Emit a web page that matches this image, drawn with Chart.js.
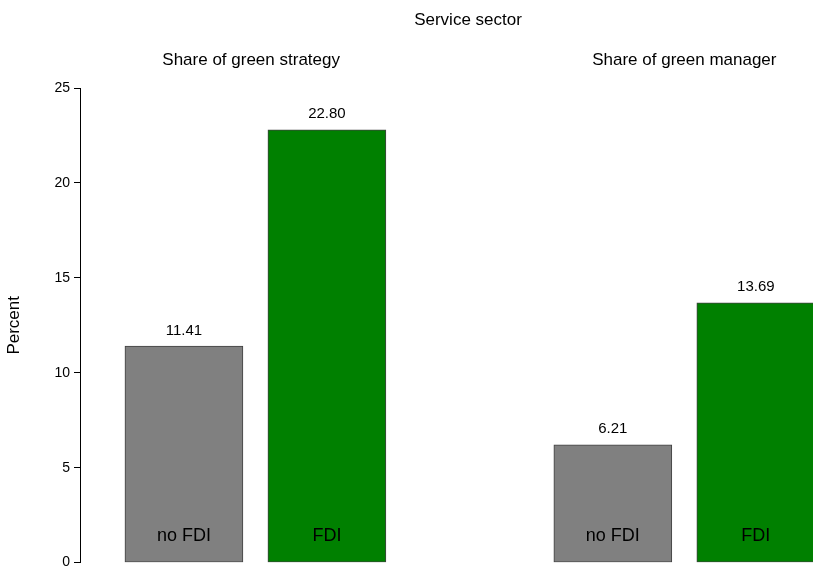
<!DOCTYPE html><html><head><script src="https://cdn.jsdelivr.net/npm/chart.js@4"></script>
<style>body{margin:0;background:#fff;overflow:hidden}#w{width:813px;height:575px}</style></head><body><div id="w"><canvas id="c"></canvas></div>
<script>
const categories=["no FDI","FDI","no FDI","FDI"];
const positions=[0,1,3,4];
const values=[11.41,22.80,6.21,13.69];
const groupTitles=["Share of green strategy","Share of green manager"];
const colors=["#808080","#008000","#808080","#008000"];
const F="'Liberation Sans', Arial, sans-serif";
const plug={id:'t',afterDatasetsDraw(ch){const c=ch.ctx,x=ch.scales.x,y=ch.scales.y;c.save();c.fillStyle='#000';c.textAlign='center';
c.font='17px '+F;c.textBaseline='middle';c.fillText('Service sector',468,20);
c.fillText(groupTitles[0],x.getPixelForValue(0.47),60);c.fillText(groupTitles[1],x.getPixelForValue(3.5),60);
values.forEach((v,i)=>{const px=x.getPixelForValue(positions[i]);c.font='15px '+F;c.textBaseline='bottom';c.fillText(v.toFixed(2),px,y.getPixelForValue(v)-8);
c.font='18px '+F;c.textBaseline='middle';c.fillText(categories[i],px,y.getPixelForValue(0)-27);});
c.restore();}};
new Chart(document.getElementById('c'),{type:'bar',data:{datasets:[{data:positions.map((p,i)=>({x:p,y:values[i]})),backgroundColor:colors,borderColor:'#404040',borderWidth:1,borderSkipped:false,barThickness:118}]},
options:{responsive:true,maintainAspectRatio:false,animation:false,layout:{padding:{top:88,bottom:0,left:0,right:0}},plugins:{legend:{display:false},tooltip:{enabled:false}},
scales:{x:{type:'linear',offset:false,min:-0.727,max:4.4,display:false},
y:{min:0,max:25,ticks:{stepSize:5,color:'#000',font:{size:14,family:F},padding:4},grid:{drawOnChartArea:false,drawTicks:true,tickLength:6,color:'#000'},border:{color:'#000'},
title:{display:true,text:'Percent',color:'#000',font:{size:17,family:F}},afterFit(s){s.width=80;}}}},plugins:[plug]});
</script></body></html>
